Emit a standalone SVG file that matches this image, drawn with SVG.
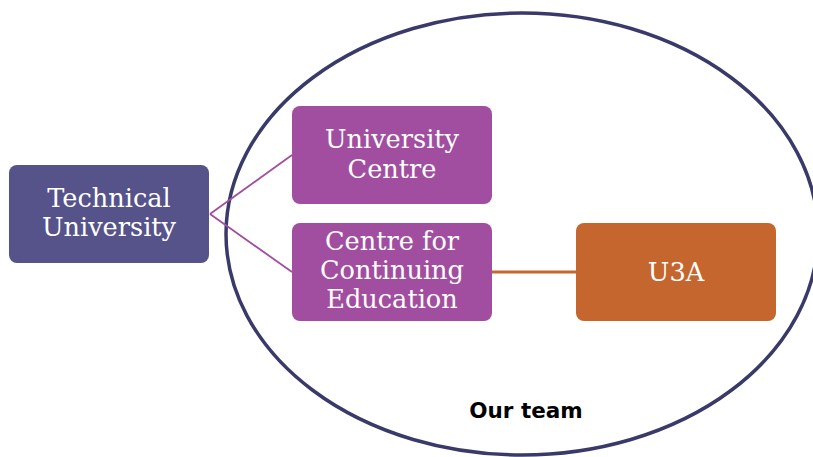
<svg xmlns="http://www.w3.org/2000/svg" width="813" height="457" viewBox="0 0 813 457">
<style>
.box{stroke:none}
.t{font-family:"DejaVu Serif","Liberation Serif",serif;font-size:25.6px;fill:#ffffff;text-anchor:middle}
.lbl{font-family:"DejaVu Sans","Liberation Sans",sans-serif;font-weight:bold;font-size:21.5px;fill:#000000;text-anchor:middle}
</style>
<rect width="813" height="457" fill="#ffffff"/>
<ellipse id="team" cx="522" cy="234" rx="296" ry="221" fill="none" stroke="#3a3a6a" stroke-width="3.5"/>
<g id="connectors">
<line x1="210" y1="214" x2="292" y2="155" stroke="#a24ea0" stroke-width="1.8"/>
<line x1="210" y1="214" x2="292" y2="272" stroke="#a24ea0" stroke-width="1.8"/>
<line x1="492" y1="272" x2="576" y2="272" stroke="#c5662e" stroke-width="3"/>
</g>
<g id="technical-university">
<rect class="box" x="9" y="165" width="200" height="98" rx="8" fill="#55538a"/>
<text class="t" x="109" y="207">Technical</text>
<text class="t" x="109" y="236">University</text>
</g>
<g id="university-centre">
<rect class="box" x="292" y="106" width="200" height="98" rx="8" fill="#a24ea0"/>
<text class="t" x="392" y="148">University</text>
<text class="t" x="392" y="178">Centre</text>
</g>
<g id="continuing-education">
<rect class="box" x="292" y="223" width="200" height="98" rx="8" fill="#a24ea0"/>
<text class="t" x="392" y="250">Centre for</text>
<text class="t" x="392" y="279">Continuing</text>
<text class="t" x="392" y="308">Education</text>
</g>
<g id="u3a">
<rect class="box" x="576" y="223" width="200" height="98" rx="8" fill="#c5662e"/>
<text class="t" x="676" y="281">U3A</text>
</g>
<text class="lbl" x="526" y="418">Our team</text>
</svg>
